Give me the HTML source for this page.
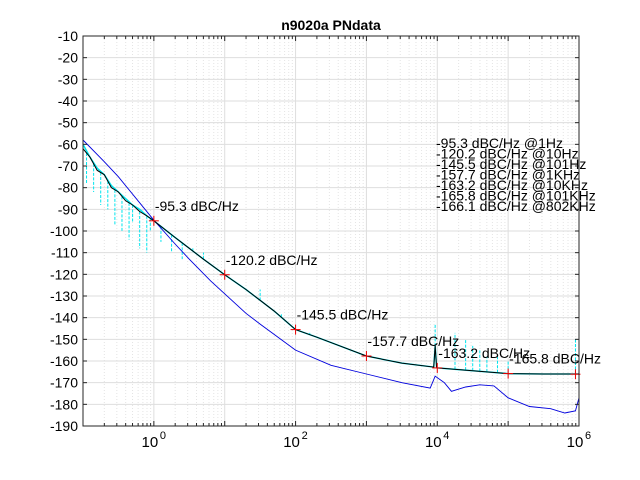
<!DOCTYPE html>
<html><head><meta charset="utf-8"><style>
body{margin:0;background:#fff;}
svg{display:block;font-family:"Liberation Sans",sans-serif;}
</style></head><body>
<svg id="chart" width="640" height="480">
<rect width="640" height="480" fill="#fff"/>
<text x="331" y="30" text-anchor="middle" font-size="14" font-weight="bold">n9020a PNdata</text>
<g id="grid"></g>
<g id="series"></g>
<g id="axes"></g>
</svg>
<script>
const xTickExps=[0,2,4,6];
const yTicks=[-10,-20,-30,-40,-50,-60,-70,-80,-90,-100,-110,-120,-130,-140,-150,-160,-170,-180,-190];
const blackLogF=[-1,-0.9,-0.8,-0.7,-0.6,-0.5,-0.4,-0.3,-0.2,-0.1,0,0.3,0.5,0.7,1,1.3,1.5,1.7,2,2.3,2.5,3,3.5,3.95,3.97,3.99,4,4.5,5,5.5,5.95,6];
const blackVals=[-62,-66,-72,-74,-80,-82,-86,-88,-91,-93,-95.3,-103,-108,-113,-120.2,-127,-132,-137,-145.5,-149,-151.5,-157.7,-161,-162.8,-153,-162.8,-163.2,-164.5,-165.8,-166,-166,-166];
const blueLogF=[-1,-0.7,-0.5,-0.2,0,0.3,0.5,0.8,1,1.3,1.5,2,2.5,3,3.5,3.9,3.97,4.1,4.2,4.4,4.6,4.8,5,5.3,5.6,5.8,5.95,6];
const blueVals=[-58,-68,-75,-87,-95,-106,-113,-123,-129,-138,-143,-155,-162,-166,-170,-172.5,-167,-170,-174,-172,-171,-171.5,-177,-181,-182,-184,-183,-177];
const cyanLogF=blackLogF;
const cyanVals=[-60,-66,-71,-74,-79,-82,-85,-88,-90,-93,-95.3,-103,-108,-113,-120.2,-127,-132,-137,-145.5,-149,-151.5,-157.7,-161,-162.8,-153,-162.8,-163.2,-164.5,-165.8,-166,-166,-166];
const spikeLogF=[-0.95,-0.85,-0.75,-0.65,-0.55,-0.45,-0.35,-0.3,-0.2,-0.1,-0.05,0.1,0.25,0.4,0.55,0.7,1.5,1.8,2.2,3.97,4.25,4.4,4.5,4.6,4.7,4.85,5,5.95,6];
const spikeVals=[-78,-82,-88,-90,-97,-100,-104,-96,-108,-110,-100,-105,-110,-113,-108,-110,-127,-138,-147,-143,-147,-150,-153,-155,-158,-158,-160,-150,-148];
const markerLogF=[0,1,2,3,4,5,5.95];
const markerVals=[-95.3,-120.2,-145.5,-157.7,-163.2,-165.8,-166.1];
const annLabels=["-95.3 dBC/Hz","-120.2 dBC/Hz","-145.5 dBC/Hz","-157.7 dBC/Hz","-163.2 dBC/Hz","-165.8 dBC/Hz"];
const legendLines=["-95.3 dBC/Hz @1Hz","-120.2 dBC/Hz @10Hz","-145.5 dBC/Hz @101Hz","-157.7 dBC/Hz @1KHz","-163.2 dBC/Hz @10KHz","-165.8 dBC/Hz @101KHz","-166.1 dBC/Hz @802KHz"];

const L=83,R=579,T=36,B=426,NS="http://www.w3.org/2000/svg";
const xs=lf=>L+(lf+1)/7*(R-L);
const ys=v=>T+(-10-v)/180*(B-T);
function mk(tag,attrs,parent){const e=document.createElementNS(NS,tag);for(const k in attrs)e.setAttribute(k,attrs[k]);parent.appendChild(e);return e;}
const grid=document.getElementById('grid'),ser=document.getElementById('series'),ax=document.getElementById('axes');
for(let d=-1;d<6;d++)for(let m=2;m<10;m++){const x=xs(d+Math.log10(m));
 const l=mk('line',{x1:x,x2:x,y1:T,y2:B,stroke:'#e4e4e4','stroke-dasharray':'1,2'},grid);
 
 }
for(let d=0;d<=6;d++){const x=xs(d);
 const l=mk('line',{x1:x,x2:x,y1:T,y2:B,stroke:'#dedede'},grid);
 
 }
yTicks.forEach(v=>{const y=ys(v);
 const l=mk('line',{x1:L,x2:R,y1:y,y2:y,stroke:'#dedede'},grid);
 
 
 const t=mk('text',{x:L-5,y:y+5,'text-anchor':'end','font-size':14},ax);t.textContent=v;
 
 
 mk('line',{x1:L,x2:L+4,y1:y,y2:y,stroke:'#262626'},ax);
 mk('line',{x1:R,x2:R-4,y1:y,y2:y,stroke:'#262626'},ax);});
xTickExps.forEach(e=>{const x=xs(e);
 const t=mk('text',{x:x-4,y:447,'text-anchor':'middle','font-size':15},ax);t.textContent='10';
 
 
 const s=mk('text',{x:x+6,y:439,'font-size':11},ax);s.textContent=e;
 
 });
for(let d=-1;d<6;d++)for(let m=1;m<10;m++){const x=xs(d+Math.log10(m));const len=m==1?5:3;
 mk('line',{x1:x,x2:x,y1:B,y2:B-len,stroke:'#262626'},ax);mk('line',{x1:x,x2:x,y1:T,y2:T+len,stroke:'#262626'},ax);}
const box=mk('rect',{x:L,y:T,width:R-L,height:B-T,fill:'none',stroke:'#262626'},ax);


function poly(fx,vals,color,w,dash,name){const p=mk('polyline',{points:fx.map((f,i)=>xs(f)+','+ys(vals[i])).join(' '),fill:'none',stroke:color,'stroke-width':w},ser);
 if(dash)p.setAttribute('stroke-dasharray',dash);
 
 }
poly(cyanLogF,cyanVals,'#00e5ee',1.5,null,'cyan-raw-series');
spikeLogF.forEach((f,i)=>{
 let base=blackVals[0];for(let k=0;k<blackLogF.length-1;k++){if(f>=blackLogF[k]&&f<=blackLogF[k+1]){const t=(f-blackLogF[k])/(blackLogF[k+1]-blackLogF[k]);base=blackVals[k]+t*(blackVals[k+1]-blackVals[k]);break;}}
 if(f>=6)base=blackVals[blackVals.length-1];
 const l=mk('line',{x1:xs(f),x2:xs(f),y1:ys(base),y2:ys(spikeVals[i]),stroke:'#00e5ee','stroke-width':1,'stroke-dasharray':'3,1.5'},ser);
 
 });
poly(blueLogF,blueVals,'#0000dd',0.9,null,'blue-series');
poly(blackLogF,blackVals,'#000',1,null,'black-smoothed-series');
markerLogF.forEach((f,i)=>{const x=xs(f),y=ys(markerVals[i]);
 const g=mk('g',{},ser);
 
 
 mk('line',{x1:x-5,x2:x+5,y1:y,y2:y,stroke:'#e00'},g);mk('line',{x1:x,x2:x,y1:y-5,y2:y+5,stroke:'#e00'},g);
 if(i<annLabels.length){const t=mk('text',{x:x+1,y:y-10,'font-size':14},ser);t.textContent=annLabels[i];
  
  }});
legendLines.forEach((s,i)=>{const t=mk('text',{x:436,y:148+i*10.5,'font-size':14},ser);t.textContent=s;
 
 });
</script>
</body></html>
